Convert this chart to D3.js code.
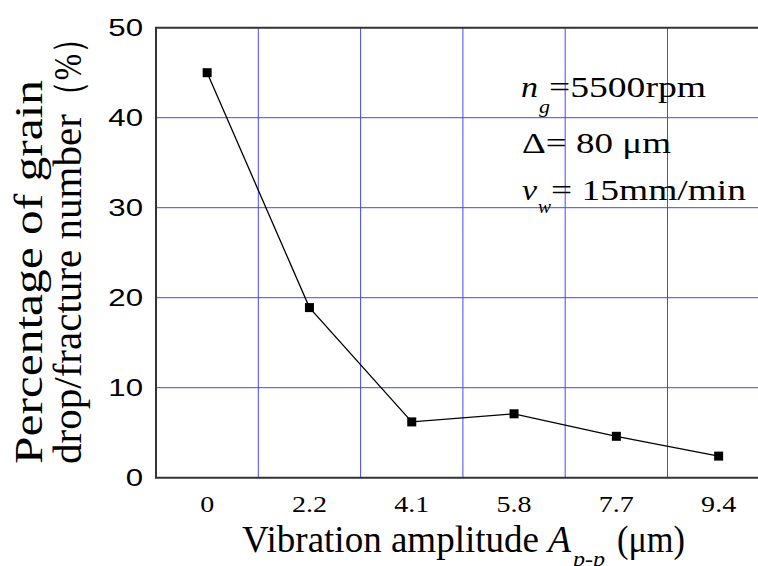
<!DOCTYPE html>
<meta charset="utf-8">
<style>
body { margin: 0; background: #fff; }
svg { display: block; }
.serif { font-family: "Liberation Serif", "Times New Roman", serif; }
</style>
<body>
<script src="https://cdn.jsdelivr.net/npm/d3@7"></script>
<script>

// data
var amplitudes = ["0", "2.2", "4.1", "5.8", "7.7", "9.4"];
var percentDrop = [45, 18.9, 6.2, 7.1, 4.6, 2.4];
var yTicks = [0, 10, 20, 30, 40, 50];

var W = 758, H = 566;
// plot box (right side runs past the picture edge, as in the original)
var pLeft = 156, pTop = 27.7, pBottom = 477.7, pRight = 156 + 6 * 102.3;

var svg = d3.select("body").append("svg")
    .attr("width", W)
    .attr("height", H);

svg.append("rect").attr("width", W).attr("height", H).attr("fill", "#fff");

var x = d3.scaleBand()
    .domain(amplitudes)
    .range([pLeft, pRight])
    .padding(0);

var y = d3.scaleLinear()
    .domain([0, 50])
    .range([pBottom, pTop]);

// grid
var grid = svg.append("g").attr("stroke", "#4646ff").attr("stroke-width", 1);
grid.selectAll(".gx")
    .data(amplitudes.slice(1))
    .enter().append("line")
      .attr("x1", function(d) { return x(d); })
      .attr("x2", function(d) { return x(d); })
      .attr("y1", pTop)
      .attr("y2", pBottom);
grid.selectAll(".gy")
    .data(yTicks.slice(1, -1))
    .enter().append("line")
      .attr("x1", pLeft)
      .attr("x2", pRight)
      .attr("y1", function(d) { return y(d); })
      .attr("y2", function(d) { return y(d); });

// frame
svg.append("path")
    .attr("stroke", "#333").attr("stroke-width", 2).attr("fill", "none")
    .attr("d", "M" + pRight + "," + pTop + "H" + pLeft + "V" + pBottom + "H" + pRight);

// y axis
var yAxis = svg.append("g")
    .attr("transform", "translate(" + pLeft + ",0)")
    .call(d3.axisLeft(y).tickValues(yTicks).tickSize(0).tickPadding(10));
yAxis.select(".domain").remove();
yAxis.selectAll("text")
    .attr("font-family", "'Liberation Sans', Arial, sans-serif")
    .attr("font-size", 24)
    .attr("fill", "#000")
    .attr("transform", "scale(1.3,1)");

// x axis
var xAxis = svg.append("g")
    .attr("transform", "translate(0," + pBottom + ")")
    .call(d3.axisBottom(x).tickSize(0).tickPadding(18));
xAxis.select(".domain").remove();
xAxis.selectAll("text")
    .attr("font-family", "'Liberation Serif', 'Times New Roman', serif")
    .attr("font-size", 23)
    .attr("fill", "#000")
    .attr("transform", "scale(1.22,1)");

// line + markers
var pts = amplitudes.map(function(a, i) { return {a: a, v: percentDrop[i]}; });
var cx = function(d) { return x(d.a) + x.bandwidth() / 2; };

svg.append("path")
    .datum(pts)
    .attr("fill", "none")
    .attr("stroke", "#000")
    .attr("stroke-width", 1.3)
    .attr("d", d3.line().x(cx).y(function(d) { return y(d.v); }));

svg.selectAll(".mark")
    .data(pts)
    .enter().append("rect")
      .attr("x", function(d) { return cx(d) - 4.5; })
      .attr("y", function(d) { return y(d.v) - 4.5; })
      .attr("width", 9)
      .attr("height", 9)
      .attr("fill", "#000");

// helper for text pieces
function txt(g, s, px, py, size, len, italic) {
  var t = g.append("text")
      .attr("x", px)
      .attr("y", py)
      .attr("font-size", size)
      .attr("fill", "#000")
      .text(s);
  if (len) t.attr("textLength", len).attr("lengthAdjust", "spacingAndGlyphs");
  if (italic) t.attr("font-style", "italic");
  return t;
}

// annotation
var note = svg.append("g").attr("class", "serif");
txt(note, "n", 521, 97, 29, 17, true);
txt(note, "g", 539, 113, 19, 11, true);
txt(note, "=5500rpm", 549, 97, 29, 157);
txt(note, "\u0394= 80 \u03bcm", 522, 153, 29, 149);
txt(note, "v", 522, 200, 29, 15, true);
txt(note, "w", 538, 213, 19, 13, true);
txt(note, "= 15mm/min", 551, 200, 29, 195);

// x title
var xt = svg.append("g").attr("class", "serif");
txt(xt, "Vibration amplitude", 242, 552, 37, 297);
txt(xt, "A", 548, 552, 37, 23, true);
txt(xt, "p-p", 573, 566, 20, 32, true);
txt(xt, "(\u03bcm)", 617, 552, 37, 68);

// y title
var yt = svg.append("g").attr("class", "serif")
    .attr("transform", "translate(0,464) rotate(-90)");
txt(yt, "Percentage of grain", 0, 42, 40, 384);
txt(yt, "drop/fracture number", 0, 81, 40, 350);
txt(yt, "\uff08%\uff09", 352, 81, 40, 90);

</script>
</body>
